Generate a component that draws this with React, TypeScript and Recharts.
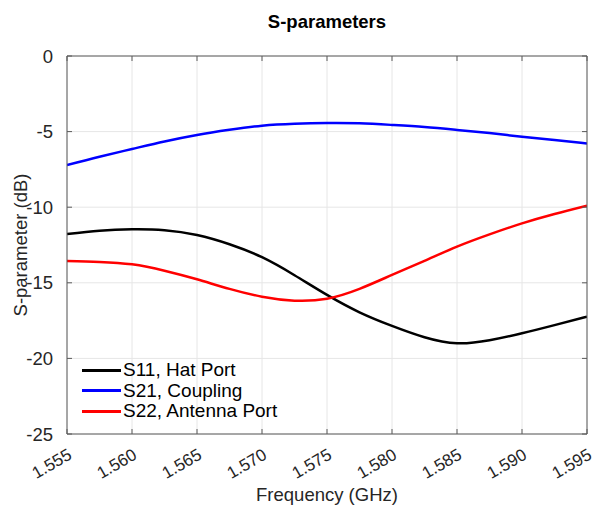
import React from "react";
import { LineChart, Line, XAxis, YAxis, CartesianGrid, Legend, Label } from "recharts";

const freqs = [1.555, 1.5575, 1.56, 1.5625, 1.565, 1.5675, 1.57, 1.5725, 1.575, 1.5775, 1.58, 1.5825, 1.585, 1.5875, 1.59, 1.5925, 1.595];
const s11 = [-11.77, -11.55, -11.46, -11.52, -11.84, -12.45, -13.31, -14.5, -15.8, -16.95, -17.85, -18.6, -19.0, -18.8, -18.34, -17.8, -17.24];
const s21 = [-7.21, -6.66, -6.15, -5.65, -5.22, -4.88, -4.61, -4.48, -4.43, -4.45, -4.56, -4.7, -4.89, -5.1, -5.34, -5.56, -5.78];
const s22 = [-13.56, -13.62, -13.78, -14.2, -14.77, -15.4, -15.92, -16.18, -16.05, -15.4, -14.48, -13.55, -12.61, -11.8, -11.07, -10.45, -9.9];

const xTicks = [1.555, 1.56, 1.565, 1.57, 1.575, 1.58, 1.585, 1.59, 1.595];
const yTicks = [-25, -20, -15, -10, -5, 0];

const series = [
  { key: "s11", name: "S11, Hat Port", color: "#000000", values: s11 },
  { key: "s21", name: "S21, Coupling", color: "#0000ff", values: s21 },
  { key: "s22", name: "S22, Antenna Port", color: "#ff0000", values: s22 },
];

const data = freqs.map((f, i) => {
  const row: any = { f };
  series.forEach((s) => (row[s.key] = s.values[i]));
  return row;
});

const FONT = "'Liberation Sans', Arial, Helvetica, sans-serif";
const TXT = "#262626";
const AXIS = "#5a5a5a";

const XTick = (props: any) => {
  const { x, y, payload } = props;
  return (
    <text
      x={x + 6}
      y={y}
      transform={`rotate(-30, ${x + 6}, ${y})`}
      textAnchor="end"
      fontSize={17}
      fontFamily={FONT}
      fill={TXT}
    >
      {Number(payload.value).toFixed(3)}
    </text>
  );
};

const LegendContent = (props: any) => {
  const { payload } = props;
  return (
    <div style={{ fontFamily: FONT, fontSize: 19, color: "#000", lineHeight: "20.5px" }}>
      {(payload || []).map((p: any) => (
        <div key={p.value} style={{ display: "flex", alignItems: "center", height: 20.5 }}>
          <div style={{ width: 39, height: 3, background: p.color, marginRight: 2 }} />
          <span>{p.value}</span>
        </div>
      ))}
    </div>
  );
};

export default function App() {
  return (
    <div style={{ position: "absolute", left: 0, top: 0, width: 596, height: 508, background: "#fff" }}>
      <div
        style={{
          position: "absolute",
          left: 67,
          width: 520,
          top: 11,
          textAlign: "center",
          fontFamily: FONT,
          fontWeight: "bold",
          fontSize: 18.5,
          color: "#000",
        }}
      >
        S-parameters
      </div>
      <LineChart width={596} height={508} data={data} margin={{ top: 26, right: 0, bottom: 0, left: 0 }}>
        <CartesianGrid xAxisId="b" yAxisId="l" stroke="#e6e6e6" strokeWidth={1} />
        <XAxis
          xAxisId="b"
          dataKey="f"
          type="number"
          domain={[1.555, 1.595]}
          ticks={xTicks}
          allowDataOverflow
          height={74}
          tickSize={-5}
          tickMargin={29}
          tick={<XTick />}
          tickLine={{ stroke: AXIS }}
          axisLine={{ stroke: AXIS }}
          interval={0}
        >
          <Label
            value="Frequency (GHz)"
            position="insideBottom"
            offset={7}
            style={{ fontFamily: FONT, fontSize: 18.5, fill: TXT }}
          />
        </XAxis>
        <XAxis
          xAxisId="t"
          orientation="top"
          dataKey="f"
          type="number"
          domain={[1.555, 1.595]}
          ticks={xTicks}
          allowDataOverflow
          height={30}
          tickSize={-5}
          tickFormatter={() => ""}
          tickLine={{ stroke: AXIS }}
          axisLine={{ stroke: AXIS }}
          interval={0}
        />
        <YAxis
          yAxisId="l"
          type="number"
          domain={[-25, 0]}
          ticks={yTicks}
          allowDataOverflow
          width={67}
          tickSize={-5}
          tickMargin={19}
          tick={{ fontFamily: FONT, fontSize: 18.5, fill: TXT }}
          tickLine={{ stroke: AXIS }}
          axisLine={{ stroke: AXIS }}
          interval={0}
        >
          <Label
            content={(p: any) => {
              const vb = p.viewBox;
              const cx = vb.x + 20;
              const cy = vb.y + vb.height / 2;
              return (
                <text
                  x={cx}
                  y={cy}
                  transform={`rotate(-90, ${cx}, ${cy})`}
                  textAnchor="middle"
                  dominantBaseline="central"
                  fontFamily={FONT}
                  fontSize={18.5}
                  fill={TXT}
                >
                  S-parameter (dB)
                </text>
              );
            }}
          />
        </YAxis>
        <YAxis
          yAxisId="r"
          orientation="right"
          type="number"
          domain={[-25, 0]}
          ticks={yTicks}
          allowDataOverflow
          width={9}
          tickSize={-5}
          tickFormatter={() => ""}
          tickLine={{ stroke: AXIS }}
          axisLine={{ stroke: AXIS }}
          interval={0}
        />
        <Legend
          layout="vertical"
          align="center"
          verticalAlign="middle"
          content={<LegendContent />}
          wrapperStyle={{ position: "absolute", left: 82, top: 360, width: "auto" }}
        />
        {series.map((s) => (
          <Line
            key={s.key}
            xAxisId="b"
            yAxisId="l"
            type="natural"
            dataKey={s.key}
            name={s.name}
            stroke={s.color}
            strokeWidth={2.5}
            dot={false}
            activeDot={false}
            isAnimationActive={false}
          />
        ))}
      </LineChart>
    </div>
  );
}
